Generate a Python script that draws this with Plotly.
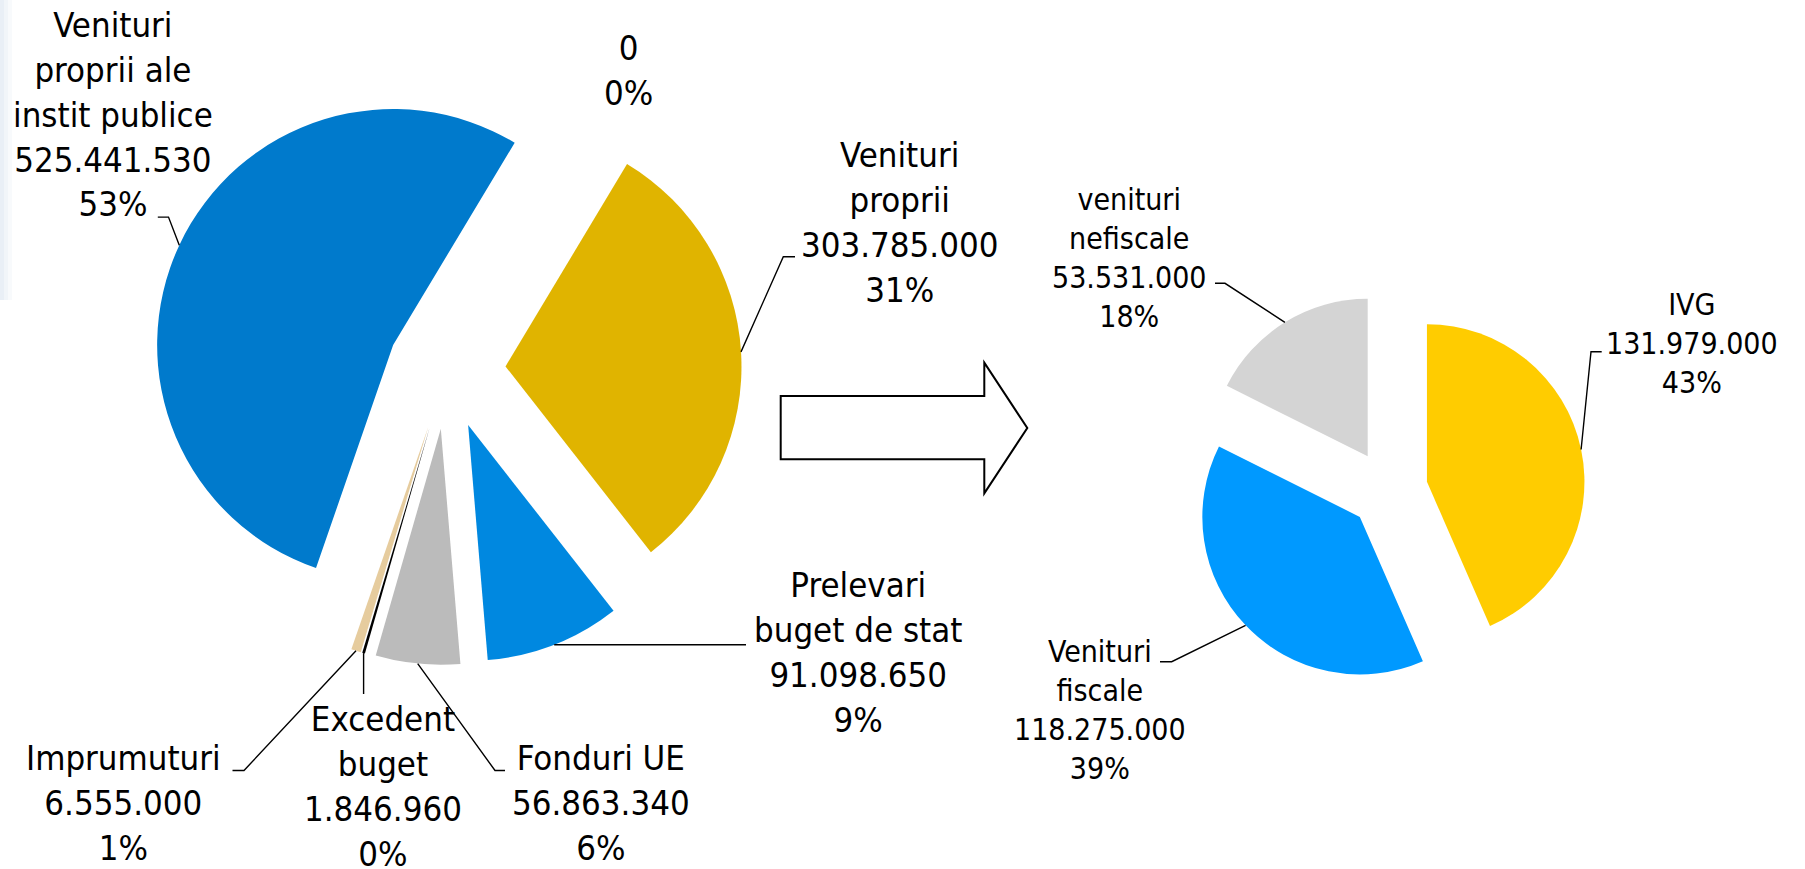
import plotly.graph_objects as go

W, H = 1805, 869

# ---------------- data ----------------
left_categories = ["", "Venituri\nproprii", "Prelevari\nbuget de stat", "Fonduri UE",
                   "Excedent\nbuget", "Imprumuturi", "Venituri\nproprii ale\ninstit publice"]
left_values = [0, 303785000, 91098650, 56863340, 1846960, 6555000, 525441530]
left_colors = ["#FFFFFF", "#E0B400", "#0088E0", "#BBBBBB", "#000000", "#E6CC9E", "#007ACC"]

right_categories = ["IVG", "Venituri\nfiscale", "venituri\nnefiscale"]
right_values = [131979000, 118275000, 53531000]
right_colors = ["#FFCC00", "#0099FF", "#D4D4D4"]

# ---------------- layout parameters (pixels) ----------------
PULL = 0.25
LEFT_PIE = dict(cx=446.6, cy=370.0, r=236.0, rotation=31)
RIGHT_PIE = dict(cx=1388.4, cy=489.8, r=157.5, rotation=0)

FONT = "DejaVu Sans Condensed, DejaVu Sans, Verdana, sans-serif"
LEFT_FONT_SIZE = 34.5
RIGHT_FONT_SIZE = 30

# label block centres and leader elbows (None -> take from slice edge point)
left_label_pos = [(628, 70), (899, 222.5), (857.6, 652.8), (601, 803),
                  (383, 786.5), (123, 803), (113, 114.5)]
left_leaders = [None,
                [(783.3, 256.7), (795, 256.7)],
                [(735, None), (746, None)],
                [(495, 770.5), (505, 770.5)],
                [(None, 694)],
                [(244, 770.5), (232.5, 770.5)],
                [(168.5, 217.1), (157.8, 217.1)]]

right_label_pos = [(1692.3, 343), (1100.3, 710), (1129.2, 258)]
right_leaders = [[(1591, 351.7), (1601.7, 351.7)],
                 [(1171.7, 661.7), (1160, 661.7)],
                 [(1225, 283.3), (1215, 283.3)]]

ARROW = [(780.7, 396), (984.3, 396), (984.3, 362.7), (1027.3, 428),
         (984.3, 493.3), (984.3, 459.3), (780.7, 459.3)]


def fmt_num(v):
    return f"{v:,}".replace(",", ".")


def domain_for(p):
    half = p["r"] * (1 + PULL)
    return dict(x=[(p["cx"] - half) / W, (p["cx"] + half) / W],
                y=[1 - (p["cy"] + half) / H, 1 - (p["cy"] - half) / H])


def label_texts(cats, vals):
    tot = sum(vals)
    out = []
    for c, v in zip(cats, vals):
        lines = (c.split("\n") if c else []) + [fmt_num(v), f"{round(v / tot * 100)}%"]
        out.append("<br>".join(lines))
    return out


def edge_points(p, vals):
    import math
    tot = sum(vals)
    pts = []
    cum = 0
    for v in vals:
        mid = math.radians(p["rotation"] + (cum + v / 2) / tot * 360)
        cum += v
        d = (1 + PULL) * p["r"]
        pts.append((p["cx"] + d * math.sin(mid), p["cy"] - d * math.cos(mid)))
    return pts


fig = go.Figure()

for p, cats, vals, cols in [(LEFT_PIE, left_categories, left_values, left_colors),
                            (RIGHT_PIE, right_categories, right_values, right_colors)]:
    fig.add_trace(go.Pie(
        labels=[c.replace("\n", " ") if c else "(gol)" for c in cats],
        values=vals,
        sort=False,
        direction="clockwise",
        rotation=p["rotation"],
        pull=[PULL] * len(vals),
        marker=dict(colors=cols, line=dict(width=0)),
        textinfo="none",
        showlegend=False,
        domain=domain_for(p),
    ))

# invisible pixel-coordinate axes for annotations / leader lines
fig.add_trace(go.Scatter(x=[], y=[], showlegend=False, hoverinfo="skip"))

shapes = []
annotations = []

# faint decoration strip on the left edge
for i, op in enumerate([0.4, 0.25, 0.12]):
    shapes.append(dict(type="rect", xref="x", yref="y", x0=i * 4, x1=i * 4 + 4, y0=0, y1=300,
                       fillcolor="#C9D6E8", opacity=op, line=dict(width=0), layer="below"))

for p, cats, vals, pos, leaders, fs in [
        (LEFT_PIE, left_categories, left_values, left_label_pos, left_leaders, LEFT_FONT_SIZE),
        (RIGHT_PIE, right_categories, right_values, right_label_pos, right_leaders, RIGHT_FONT_SIZE)]:
    texts = label_texts(cats, vals)
    starts = edge_points(p, vals)
    for t, (lx, ly), ld, (sx, sy) in zip(texts, pos, leaders, starts):
        annotations.append(dict(text=t, x=lx, y=ly, xref="x", yref="y", showarrow=False,
                                xanchor="center", yanchor="middle", align="center",
                                font=dict(family=FONT, size=fs, color="#000000")))
        if ld:
            path = f"M{sx:.1f},{sy:.1f}"
            for (ex, ey) in ld:
                ex = sx if ex is None else ex
                ey = sy if ey is None else ey
                path += f" L{ex:.1f},{ey:.1f}"
            shapes.append(dict(type="path", xref="x", yref="y", path=path,
                               line=dict(color="#000000", width=1.4), layer="above"))

arrow_path = "M" + " L".join(f"{x},{y}" for x, y in ARROW) + " Z"
shapes.append(dict(type="path", xref="x", yref="y", path=arrow_path,
                   fillcolor="#FFFFFF", line=dict(color="#000000", width=2), layer="above"))

fig.update_layout(
    width=W, height=H,
    margin=dict(l=0, r=0, t=0, b=0),
    paper_bgcolor="#FFFFFF", plot_bgcolor="rgba(0,0,0,0)",
    xaxis=dict(range=[0, W], visible=False, fixedrange=True),
    yaxis=dict(range=[H, 0], visible=False, fixedrange=True),
    shapes=shapes, annotations=annotations,
    hovermode=False,
)

fig.write_html("out.html",
               config={"displayModeBar": False},
               post_script="document.body.style.margin='0';document.body.style.overflow='hidden';")
